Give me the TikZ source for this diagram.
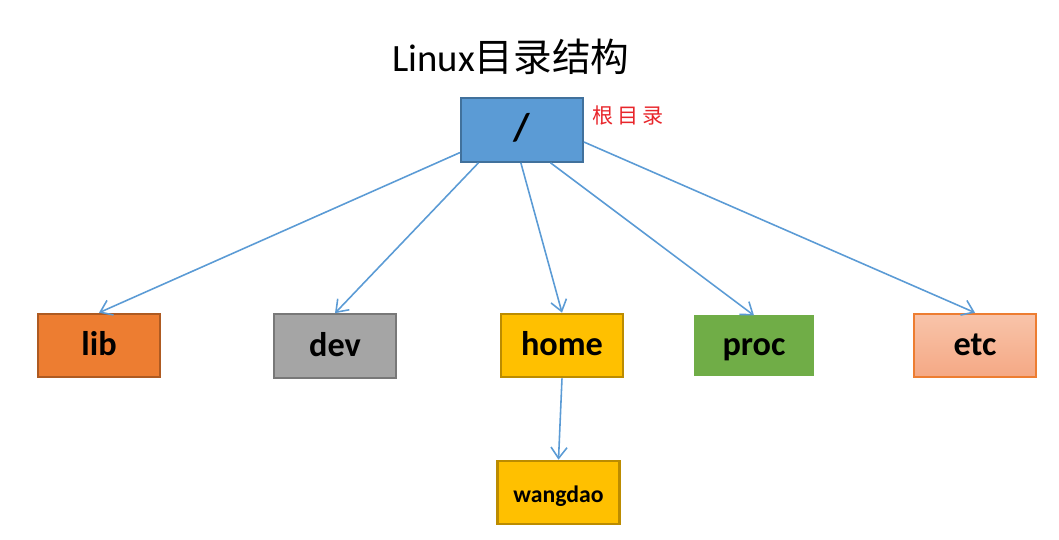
\documentclass[tikz,border=0pt]{standalone}
\usepackage{fontspec}
\setmainfont{Carlito}
\newfontfamily\cjk{Noto Sans CJK SC}
\usepackage{xcolor}
\usetikzlibrary{positioning}
\usetikzlibrary{arrows.meta}
\tikzset{>={Straight Barb[length=2.2mm,width=3.2mm]}}
\definecolor{linkblue}{HTML}{5B9BD5}
\definecolor{rootblue}{HTML}{5B9BD5}
\definecolor{rootedge}{HTML}{41719C}

\begin{document}
\begin{tikzpicture}
	[x=0.02cm,y=-0.02cm,
	dir/.style={rectangle,draw,line width=1.2pt,minimum width=2.44cm,minimum height=1.27cm,text height=2.9ex,text depth=0.5ex,font=\fontsize{19.5}{21}\selectfont\bfseries},
	link/.style={->,draw=linkblue,line width=0.9pt}]
	\useasboundingbox (0,0) rectangle (1059,540);
	\node (title) at (511,57) {\fontsize{22}{24}\selectfont Linux{\cjk 目录结构}};
	\node [dir,fill=rootblue,draw=rootedge,font=\fontsize{22}{24}\selectfont\bfseries] (root) at (522,130) {/};
	\node [text={rgb,255:red,232;green,38;blue,43},font=\fontsize{12}{14}\selectfont\cjk] (rootlabel) at (628,116) {根\,目\,录};
	\node [dir,fill={rgb,255:red,237;green,125;blue,49},draw={rgb,255:red,174;green,90;blue,33}] (lib) at (99,345.5) {lib};
	\node [dir,fill={rgb,255:red,165;green,165;blue,165},draw={rgb,255:red,120;green,120;blue,120}] (dev) at (335,346) {dev};
	\node [dir,fill={rgb,255:red,255;green,192;blue,0},draw={rgb,255:red,188;green,140;blue,0}] (home) at (562,345.5) {home};
	\node [dir,fill={rgb,255:red,112;green,173;blue,71},draw={rgb,255:red,112;green,173;blue,71},minimum width=2.36cm,minimum height=1.16cm] (proc) at (754,345.5) {proc};
	\node [dir,top color={rgb,255:red,248;green,196;blue,170},bottom color={rgb,255:red,245;green,168;blue,132},draw={rgb,255:red,237;green,125;blue,49}] (etc) at (975,345.5) {etc};
	\node [dir,fill={rgb,255:red,255;green,192;blue,0},draw={rgb,255:red,188;green,140;blue,0},font=\fontsize{13.5}{15}\selectfont\bfseries] (wangdao) at (558.5,492.5) {wangdao};
	\draw[link] (root.200) to (lib.north);
	\draw[link] (root.217) to (dev.north);
	\draw[link] (root.268) to (home.north);
	\draw[link] (root.311) to (proc.north);
	\draw[link] (root.349) to (etc.north);
	\draw[link] (home.south) to (wangdao.north);
\end{tikzpicture}
\end{document}
